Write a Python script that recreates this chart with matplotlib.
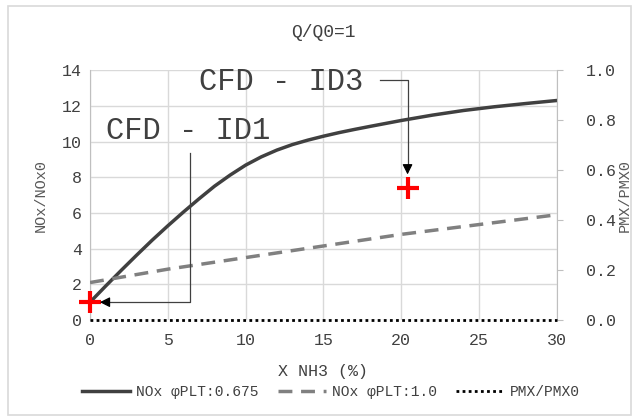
import matplotlib
matplotlib.use("Agg")
import matplotlib.pyplot as plt
from matplotlib.lines import Line2D

plt.rcParams['font.family'] = ['Liberation Mono', 'DejaVu Sans Mono']

# NOx/NOx0 versus ammonia fraction
x_nh3 = [0, 1, 2, 3, 4, 5, 6, 7, 8, 9, 10, 11, 12, 13, 14, 15, 16, 17, 18, 20, 22, 24, 26, 28, 30]
nox_0675 = [1.0, 1.9, 2.78, 3.64, 4.48, 5.28, 6.05, 6.79, 7.5, 8.12, 8.68, 9.14, 9.52, 9.83, 10.08,
            10.3, 10.5, 10.68, 10.85, 11.18, 11.48, 11.74, 11.95, 12.13, 12.3]
x_phi1 = [0, 5, 10, 15, 20, 25, 30]
nox_phi1 = [2.1, 2.85, 3.5, 4.15, 4.8, 5.35, 5.9]
x_pmx = [0, 30]
pmx = [0.0, 0.0]

# CFD results
cfd_x = [0.0, 20.4]
cfd_y = [1.0, 7.4]
cfd_labels = ["CFD - ID1", "CFD - ID3"]

fig = plt.figure(figsize=(6.34, 4.2), dpi=100)
ax = fig.add_axes([0.142, 0.238, 0.7365, 0.595])
ax2 = ax.twinx()

grid_c = '#d9d9d9'
txt_c = '#404040'
ax.set_xlim(0, 30)
ax.set_ylim(0, 14)
ax.set_xticks(range(0, 31, 5))
ax.set_yticks(range(0, 15, 2))
ax.grid(True, color=grid_c, linewidth=1.0)
ax.set_axisbelow(True)
for s in ['top', 'bottom']:
    ax.spines[s].set_visible(False)
ax.spines['left'].set_color('#bfbfbf')
ax.spines['right'].set_visible(False)
ax.tick_params(axis='y', length=0, labelsize=12, colors=txt_c, pad=6)
ax.tick_params(axis='x', length=0, labelsize=12, colors=txt_c, pad=9)

ax2.set_ylim(0, 1.0)
ax2.set_yticks([0.0, 0.2, 0.4, 0.6, 0.8, 1.0])
ax2.set_yticklabels([f"{v:.1f}" for v in [0.0, 0.2, 0.4, 0.6, 0.8, 1.0]])
for s in ['top', 'bottom', 'left']:
    ax2.spines[s].set_visible(False)
ax2.spines['right'].set_color('#bfbfbf')
ax2.tick_params(axis='y', length=4, color='#bfbfbf', labelsize=12, colors=txt_c, pad=17)

ax.plot(x_nh3, nox_0675, color='#404040', linewidth=2.5, solid_capstyle='round',
        solid_joinstyle='round', zorder=3)
ax.plot(x_phi1, nox_phi1, color='#808080', linewidth=2.5, linestyle=(0, (4, 2.5)), zorder=3)
ax2.plot(x_pmx, pmx, color='black', linewidth=2, linestyle=(0, (1, 1.2)), zorder=3, clip_on=False)

ax.plot(cfd_x, cfd_y, linestyle='none', marker='+', color='#ff0000', markersize=16,
        markeredgewidth=3, zorder=5, clip_on=False)

# ID1 callout: vertical leader then arrow to the point
ax.plot([6.4, 6.4, 0.9], [9.35, 1.0, 1.0], color='#404040', linewidth=0.9, zorder=4)
ax.annotate('', xy=(0.45, 1.0), xytext=(1.0, 1.0),
            arrowprops=dict(arrowstyle='-|>,head_length=0.6,head_width=0.3', color='black', lw=0.9),
            zorder=6)
ax.text(1.0, 10.6, cfd_labels[0], fontsize=22, color=txt_c, ha='left', va='center', zorder=4)

# ID3 callout
ax.plot([18.6, 20.4, 20.4], [13.45, 13.45, 8.6], color='#404040', linewidth=0.9, zorder=4)
ax.annotate('', xy=(20.4, 8.0), xytext=(20.4, 8.65),
            arrowprops=dict(arrowstyle='-|>,head_length=0.6,head_width=0.3', color='black', lw=0.9),
            zorder=6)
ax.text(7.0, 13.35, cfd_labels[1], fontsize=22, color=txt_c, ha='left', va='center', zorder=4)

ax.set_xlabel('X NH3 (%)', fontsize=12, color=txt_c, labelpad=12)
ax.set_ylabel('NOx/NOx0', fontsize=11, color='#595959', labelpad=10)
ax2.set_ylabel('PMX/PMX0', fontsize=11, color='#595959', labelpad=1)
fig.text(0.51, 0.922, 'Q/Q0=1', fontsize=13, color=txt_c, ha='center', va='center')

handles = [Line2D([], [], color='#404040', linewidth=2.5),
           Line2D([], [], color='#808080', linewidth=2.5, linestyle=(0, (4, 2.5))),
           Line2D([], [], color='black', linewidth=2, linestyle=(0, (1, 1.2)))]
fig.legend(handles, ['NOx φPLT:0.675', 'NOx φPLT:1.0', 'PMX/PMX0'], loc='center',
           bbox_to_anchor=(0.522, 0.067), ncol=3, frameon=False, fontsize=10.5,
           handlelength=3.3, handletextpad=0.4, columnspacing=1.3, labelcolor=txt_c)

# outer chart frame
fig.patches.append(plt.Rectangle((0.012, 0.012), 0.983, 0.974, transform=fig.transFigure,
                                 fill=False, edgecolor='#d9d9d9', linewidth=1.2))

fig.savefig('out.png', dpi=100, facecolor='white')
